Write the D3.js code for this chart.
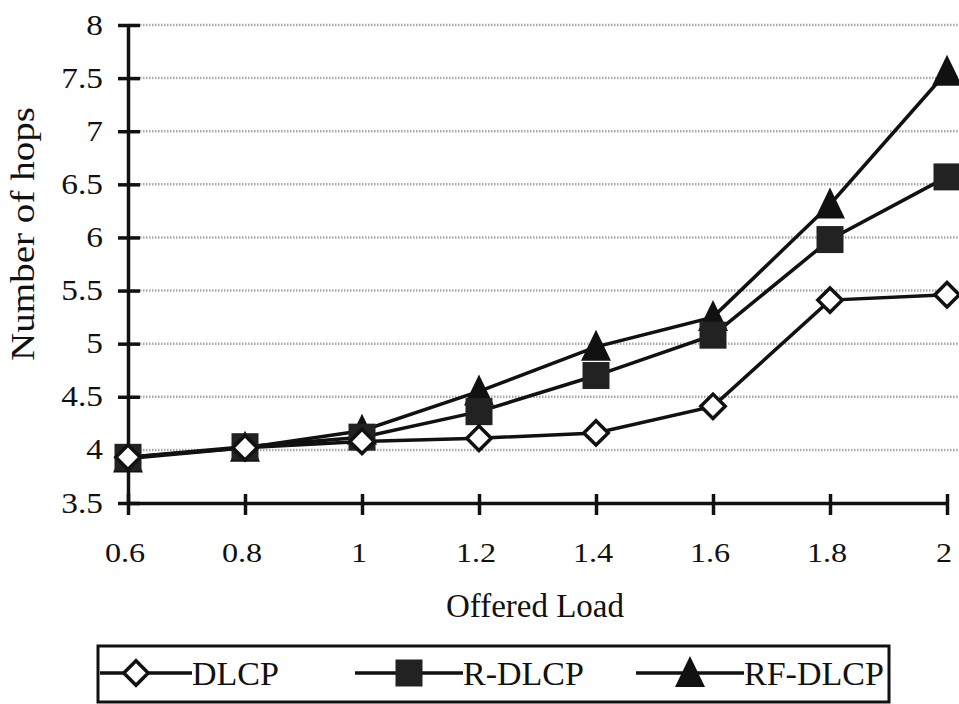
<!DOCTYPE html>
<html>
<head>
<meta charset="utf-8">
<script src="https://cdn.jsdelivr.net/npm/d3@7"></script>
<style>
  body { margin: 0; background: #fff; }
  text { font-family: "Liberation Serif", "DejaVu Serif", serif; fill: #111; }
</style>
</head>
<body>
<div id="chart"></div>
<script>
// Data
const loads = [0.6, 0.8, 1.0, 1.2, 1.4, 1.6, 1.8, 2.0];
const dlcp = [3.93, 4.02, 4.08, 4.11, 4.16, 4.41, 5.41, 5.46];
const rDlcp = [3.93, 4.03, 4.12, 4.36, 4.70, 5.08, 5.98, 6.57];
const rfDlcp = [3.92, 4.02, 4.18, 4.55, 4.97, 5.25, 6.31, 7.56];
const seriesNames = ["DLCP", "R-DLCP", "RF-DLCP"];
const xTicks = [0.6, 0.8, 1, 1.2, 1.4, 1.6, 1.8, 2];
const yTicks = [3.5, 4, 4.5, 5, 5.5, 6, 6.5, 7, 7.5, 8];

const width = 959, height = 704;

const svg = d3.select("#chart")
  .append("svg")
  .attr("width", width)
  .attr("height", height);

const x = d3.scaleLinear().domain([0.6, 2]).range([128, 947]);
const y = d3.scaleLinear().domain([3.5, 8]).range([503, 25]);

// dotted grey gridlines
svg.append("g")
  .selectAll("line")
  .data(yTicks.filter(d => d > 3.5))
  .join("line")
  .attr("x1", x(0.6))
  .attr("x2", width)
  .attr("y1", d => y(d))
  .attr("y2", d => y(d))
  .attr("stroke", "#a8a8a8")
  .attr("stroke-width", 2.5)
  .attr("stroke-dasharray", "1.5,1.5");

// axes: d3 draws domain + ticks, labels are added by hand so they can be stretched like the scan
const xAxis = svg.append("g")
  .attr("transform", `translate(0,${y(3.5)})`)
  .call(d3.axisBottom(x).tickValues(xTicks).tickSize(0).tickFormat(""));
xAxis.select(".domain").attr("stroke", "#111").attr("stroke-width", 3.5);
xAxis.selectAll(".tick line").attr("y1", -9).attr("y2", 12).attr("stroke", "#111").attr("stroke-width", 3.5);

const yAxis = svg.append("g")
  .attr("transform", `translate(${x(0.6)},0)`)
  .call(d3.axisLeft(y).tickValues(yTicks).tickSize(0).tickFormat(""));
yAxis.select(".domain").attr("stroke", "#111").attr("stroke-width", 3.5);
yAxis.selectAll(".tick line").attr("x1", -10).attr("x2", 12).attr("stroke", "#111").attr("stroke-width", 3.5);

svg.append("g")
  .selectAll("text")
  .data(xTicks)
  .join("text")
  .attr("transform", d => `translate(${x(d) - 3},562) scale(1.15,1)`)
  .attr("text-anchor", "middle")
  .attr("font-size", 28)
  .text(d => d3.format("")(d));

svg.append("g")
  .selectAll("text")
  .data(yTicks)
  .join("text")
  .attr("transform", d => `translate(103,${y(d)}) scale(1.15,1)`)
  .attr("text-anchor", "end")
  .attr("dy", "0.33em")
  .attr("font-size", 29)
  .text(d => d3.format("")(d));

// axis titles
svg.append("text")
  .attr("x", 535)
  .attr("y", 617)
  .attr("text-anchor", "middle")
  .attr("font-size", 33)
  .text("Offered Load");

svg.append("text")
  .attr("transform", `translate(34,234) rotate(-90) scale(1.15,1)`)
  .attr("text-anchor", "middle")
  .attr("font-size", 34)
  .text("Number of hops");

// series
const series = [
  { name: seriesNames[0], values: dlcp, shape: "diamond" },
  { name: seriesNames[1], values: rDlcp, shape: "square" },
  { name: seriesNames[2], values: rfDlcp, shape: "triangle" }
];

const line = d3.line()
  .x((d, i) => x(loads[i]))
  .y(d => y(d));

function drawMarker(g, shape) {
  if (shape === "diamond") {
    g.append("path")
      .attr("d", d3.symbol(d3.symbolDiamond2, 380)())
      .attr("fill", "#fff")
      .attr("stroke", "#111")
      .attr("stroke-width", 3.5);
  } else if (shape === "square") {
    g.append("rect")
      .attr("x", -13.5).attr("y", -13.5)
      .attr("width", 27).attr("height", 27)
      .attr("fill", "#222");
  } else {
    g.append("path")
      .attr("d", "M0,-17L15,14L-15,14Z")
      .attr("fill", "#111");
  }
}

// lines first, markers on top; DLCP drawn last so its diamonds sit above
const order = [series[2], series[1], series[0]];
order.forEach(s => {
  svg.append("path")
    .datum(s.values)
    .attr("fill", "none")
    .attr("stroke", "#111")
    .attr("stroke-width", 3.5)
    .attr("d", line);
});
order.forEach(s => {
  svg.append("g")
    .selectAll("g")
    .data(s.values)
    .join("g")
    .attr("transform", (d, i) => `translate(${x(loads[i])},${y(d)})`)
    .each(function () { drawMarker(d3.select(this), s.shape); });
});

// legend
const legend = svg.append("g");
legend.append("rect")
  .attr("x", 98).attr("y", 646)
  .attr("width", 791).attr("height", 56)
  .attr("fill", "#fff")
  .attr("stroke", "#111")
  .attr("stroke-width", 3);

const legendX = [100, 355, 636];
series.forEach((s, i) => {
  const g = legend.append("g").attr("transform", `translate(${legendX[i]},673)`);
  g.append("line")
    .attr("x1", 0).attr("x2", i === 0 ? 92 : 108)
    .attr("stroke", "#111").attr("stroke-width", 3.5);
  const m = g.append("g").attr("transform", `translate(${i === 0 ? 36 : 54},0)`);
  drawMarker(m, s.shape);
  g.append("text")
    .attr("x", i === 0 ? 92 : 108).attr("y", 12)
    .attr("font-size", 34)
    .text(s.name);
});
</script>
</body>
</html>
